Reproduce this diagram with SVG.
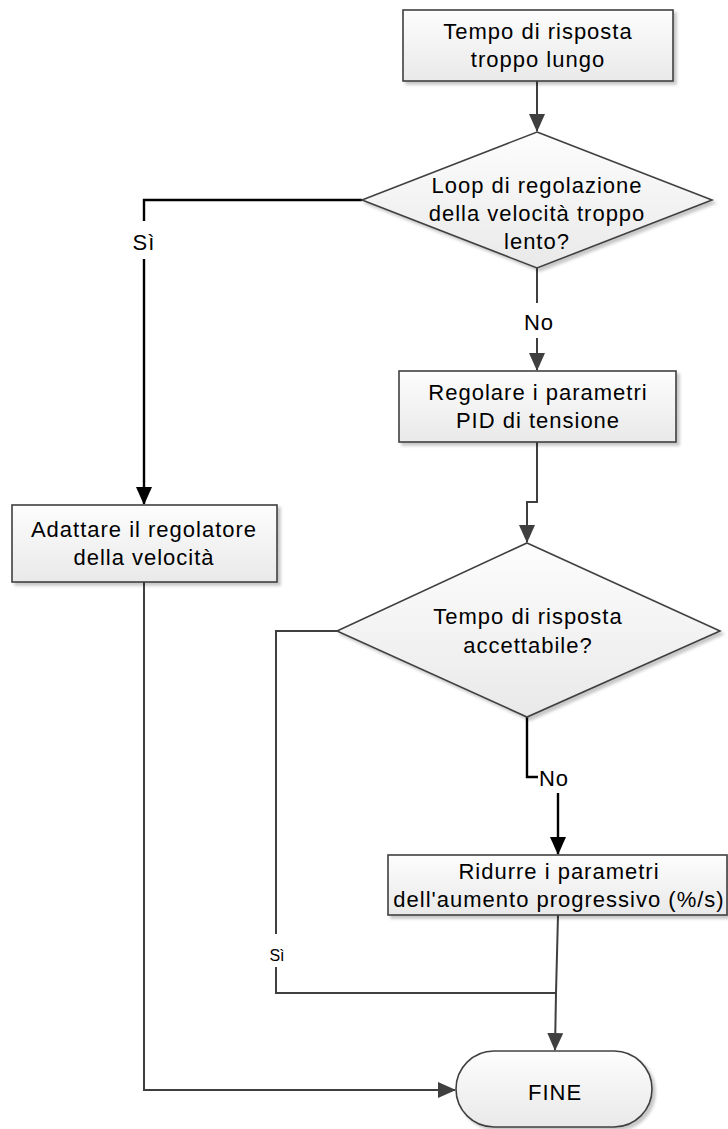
<svg xmlns="http://www.w3.org/2000/svg" width="728" height="1129" viewBox="0 0 728 1129">
<defs>
<linearGradient id="g" x1="0" y1="0" x2="0" y2="1">
<stop offset="0" stop-color="#fdfdfd"/>
<stop offset="1" stop-color="#e9e9e9"/>
</linearGradient>
<filter id="sh" x="-10%" y="-10%" width="130%" height="140%">
<feDropShadow dx="3" dy="3" stdDeviation="1.5" flood-color="#000" flood-opacity="0.22"/>
</filter>
<marker id="ag" viewBox="0 0 18 16" markerWidth="18" markerHeight="16" refX="17" refY="8" orient="auto" markerUnits="userSpaceOnUse">
<path d="M0,0 L18,8 L0,16 z" fill="#3f3f3f"/>
</marker>
<marker id="ab" viewBox="0 0 18 16" markerWidth="18" markerHeight="16" refX="17" refY="8" orient="auto" markerUnits="userSpaceOnUse">
<path d="M0,0 L18,8 L0,16 z" fill="#000"/>
</marker>
</defs>
<style>
.n{fill:url(#g);stroke:#404040;stroke-width:1.6;filter:url(#sh)}
.t{font-family:"Liberation Sans",Arial,sans-serif;font-size:22px;letter-spacing:1px;fill:#000;text-anchor:middle}
.s{font-family:"Liberation Sans",Arial,sans-serif;font-size:16px;fill:#000;text-anchor:middle}
.cg{fill:none;stroke:#3f3f3f;stroke-width:2}
.cb{fill:none;stroke:#000;stroke-width:2.4}
.bg{fill:#fff}
</style>
<g id="connectors">
<path class="cg" d="M537,81 V131" marker-end="url(#ag)"/>
<path class="cb" d="M362,200 H144 V504" marker-end="url(#ab)"/>
<path class="cg" d="M537,268 V370" marker-end="url(#ag)"/>
<path class="cg" d="M537,442 V502 H527 V542" marker-end="url(#ag)"/>
<path class="cb" d="M527,717 V777 H558 V854" marker-end="url(#ab)"/>
<path class="cg" d="M144,582 V1090 H455" marker-end="url(#ag)"/>
<path class="cg" d="M337,631 H276 V993 H556"/>
<path class="cg" d="M558,915 L556,993 L555,1050" marker-end="url(#ag)"/>
<rect class="bg" x="128" y="221" width="32" height="38"/>
<text class="t" x="144" y="250">Sì</text>
<rect class="bg" x="518" y="303" width="40" height="35"/>
<text class="t" x="539" y="330">No</text>
<rect class="bg" x="538" y="764" width="34" height="29"/>
<text class="t" x="554" y="786">No</text>
<rect class="bg" x="264" y="934" width="24" height="33"/>
<text class="s" x="277" y="961">Sì</text>
</g>
<g id="start">
<rect class="n" x="403" y="10" width="270" height="71"/>
<text class="t" x="538" y="39">Tempo di risposta</text>
<text class="t" x="538" y="67">troppo lungo</text>
</g>
<g id="decision1">
<polygon class="n" points="537,132 712,200 537,268 362,200"/>
<text class="t" x="537" y="193">Loop di regolazione</text>
<text class="t" x="537" y="221">della velocità troppo</text>
<text class="t" x="537" y="249">lento?</text>
</g>
<g id="adjust-pid">
<rect class="n" x="399" y="371" width="277" height="71"/>
<text class="t" x="538" y="400">Regolare i parametri</text>
<text class="t" x="538" y="428">PID di tensione</text>
</g>
<g id="adapt-speed">
<rect class="n" x="12" y="505" width="265" height="77"/>
<text class="t" x="144" y="537">Adattare il regolatore</text>
<text class="t" x="144" y="565">della velocità</text>
</g>
<g id="decision2">
<polygon class="n" points="527,543 720,631 527,717 337,631"/>
<text class="t" x="528" y="624">Tempo di risposta</text>
<text class="t" x="528" y="653">accettabile?</text>
</g>
<g id="reduce-ramp">
<rect class="n" x="388" y="855" width="339" height="60"/>
<text class="t" x="559" y="879">Ridurre i parametri</text>
<text class="t" x="559" y="907">dell'aumento progressivo (%/s)</text>
</g>
<g id="end">
<rect class="n" x="456" y="1051" width="196" height="76" rx="38" ry="38"/>
<text class="t" x="555" y="1100">FINE</text>
</g>
</svg>
